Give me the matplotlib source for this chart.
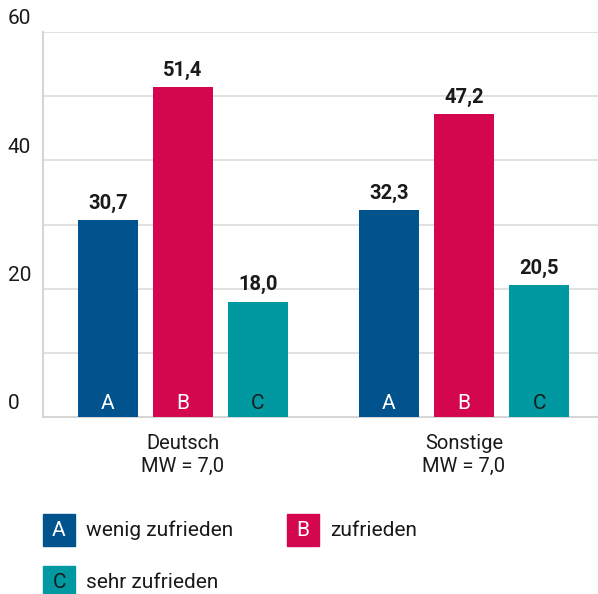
import numpy as np
import matplotlib.pyplot as plt
from matplotlib.patches import Rectangle
from matplotlib.transforms import blended_transform_factory

groups = ['Deutsch\nMW = 7,0', 'Sonstige\nMW = 7,0']
letters = ['A', 'B', 'C']
series_names = ['wenig zufrieden', 'zufrieden', 'sehr zufrieden']
values = [
    [30.7, 32.3],   # A
    [51.4, 47.2],   # B
    [18.0, 20.5],   # C
]
colors = ['#00538c', '#d50650', '#0098a1']
letter_colors = ['white', 'white', '#1a1a1a']
ytick_vals = [0, 20, 40, 60]

W, H = 598, 594
plt.rcParams['font.family'] = ['Roboto', 'DejaVu Sans']
fig = plt.figure(figsize=(W / 100, H / 100), dpi=100)
ax = fig.add_axes([43 / W, 1 - 417 / H, 1 - 43 / W, (417 - 32) / H])

x = np.arange(len(groups))
bw = 60 / 281
step = 75 / 281
for i, (vals, col) in enumerate(zip(values, colors)):
    xs = x + (i - 1) * step
    ax.bar(xs, vals, width=bw, color=col, zorder=3)
    for xi, v in zip(xs, vals):
        ax.text(xi, v + 1.1, f'{v:.1f}'.replace('.', ','), ha='center', va='bottom',
                fontsize=14.5, fontweight='bold', color='#1a1a1a')
        ax.text(xi, 2.1, letters[i], ha='center', va='center', fontsize=15,
                color=letter_colors[i], zorder=4)

ax.set_xlim(-140 / 281, 415 / 281)
ax.set_ylim(0, 60)
ax.set_yticks(np.arange(0, 61, 10))
ax.set_yticklabels([])
ax.tick_params(axis='both', length=0)
ax.grid(axis='y', color='#dedede', linewidth=1.3, zorder=0)
ax.set_xticks(x)
ax.set_xticklabels(groups, fontsize=14.5, color='#1a1a1a', linespacing=1.3)
ax.tick_params(axis='x', pad=12)
for s in ['top', 'right']:
    ax.spines[s].set_visible(False)
for s in ['left', 'bottom']:
    ax.spines[s].set_color('#d6d6d6')
    ax.spines[s].set_linewidth(1.5)

# y labels sit above their gridline at the far left
tr = blended_transform_factory(fig.transFigure, ax.transData)
for v in ytick_vals:
    ax.text(8 / W, v + 0.55, str(v), transform=tr, ha='left', va='bottom',
            fontsize=15, color='#1a1a1a', clip_on=False)

# legend
legend_pos = [(43, 514), (287, 514), (43, 566)]
for (lx, ly), col, let, lc, name in zip(legend_pos, colors, letters, letter_colors, series_names):
    fig.add_artist(Rectangle((lx / W, 1 - (ly + 32) / H), 32 / W, 32 / H,
                             transform=fig.transFigure, color=col))
    fig.text((lx + 16) / W, 1 - (ly + 16) / H, let, ha='center', va='center',
             fontsize=15, color=lc)
    fig.text((lx + 43) / W, 1 - (ly + 16) / H, name, ha='left', va='center',
             fontsize=15, color='#1a1a1a')

fig.savefig('out.png', dpi=100)
